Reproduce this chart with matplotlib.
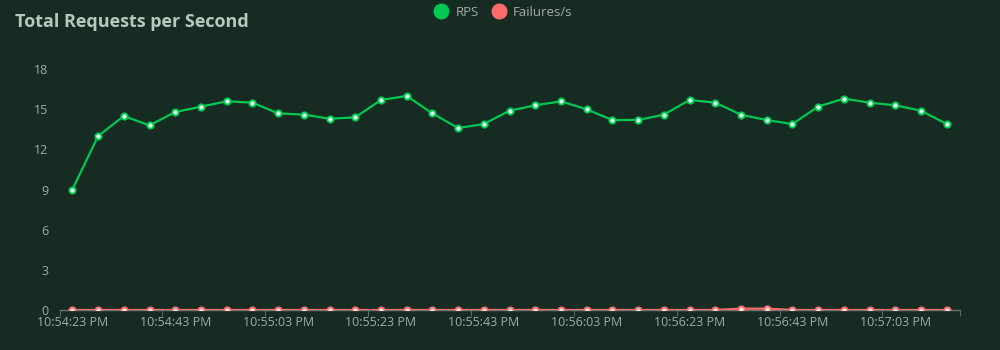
import matplotlib.pyplot as plt
from matplotlib.lines import Line2D
import numpy as np

# data (one point every 5 s)
rps = [9.0, 13.0, 14.5, 13.8, 14.8, 15.2, 15.6, 15.5, 14.7, 14.6,
       14.3, 14.4, 15.7, 16.0, 14.7, 13.6, 13.9, 14.9, 15.3, 15.6,
       15.0, 14.2, 14.2, 14.6, 15.7, 15.5, 14.6, 14.2, 13.9, 15.2,
       15.8, 15.5, 15.3, 14.9, 13.9]
failures = [0, 0, 0, 0, 0, 0, 0, 0, 0, 0,
            0, 0, 0, 0, 0, 0, 0, 0, 0, 0,
            0, 0, 0, 0, 0, 0, 0.1, 0.1, 0, 0,
            0, 0, 0, 0, 0]
tick_labels = ['10:54:23 PM', '10:54:43 PM', '10:55:03 PM', '10:55:23 PM',
               '10:55:43 PM', '10:56:03 PM', '10:56:23 PM', '10:56:43 PM',
               '10:57:03 PM']
y_ticks = [0, 3, 6, 9, 12, 15, 18]

bg = '#162b22'
green = '#00c853'
red = '#ff6b6b'
txt = '#a3aba6'

plt.rcParams['font.family'] = ['Open Sans', 'DejaVu Sans']

fig = plt.figure(figsize=(10, 3.5), dpi=100, facecolor=bg)
ax = fig.add_axes([0.0595, 0.1143, 0.9, 0.688])
ax.set_facecolor(bg)

x = np.arange(len(rps))
ax.plot(x, rps, color=green, lw=1.6, marker='o', ms=4.5, mfc='#e8fff0',
        mec=green, mew=1.4, zorder=3)
ax.plot(x, failures, color=red, lw=1.6, marker='o', ms=4.5, mfc='#ffe8e8',
        mec=red, mew=1.4, zorder=3)

ax.set_xlim(-0.5, len(rps) - 0.5)
ax.set_ylim(0, 18)
ax.set_yticks(y_ticks)
ax.set_xticks(np.arange(0, len(rps), 4))
ax.set_xticklabels(tick_labels)
ax.set_xticks(list(np.arange(-0.5, len(rps), 4)) + [len(rps) - 0.5], minor=True)
ax.tick_params(axis='x', which='major', length=0, pad=4, colors=txt, labelsize=9)
ax.tick_params(axis='x', which='minor', length=4, color='#6e7470', direction='out')
ax.tick_params(axis='y', length=0, pad=8, colors=txt, labelsize=9)

for s in ['top', 'right', 'left']:
    ax.spines[s].set_visible(False)
ax.spines['bottom'].set_color('#6e7470')
ax.spines['bottom'].set_linewidth(1)

fig.text(0.015, 0.938, 'Total Requests per Second', color='#b8c8bc',
         fontsize=13, fontweight='bold', va='center', ha='left')

handles = [Line2D([], [], ls='none', marker='o', ms=10.5, color=green),
           Line2D([], [], ls='none', marker='o', ms=10.5, color=red)]
fig.legend(handles, ['RPS', 'Failures/s'], loc='center', bbox_to_anchor=(0.503, 0.965),
           ncol=2, frameon=False, handlelength=1.2, handletextpad=0.5,
           columnspacing=0.9, labelcolor=txt, fontsize=9.5)

fig.savefig('out.png', dpi=100, facecolor=bg)
